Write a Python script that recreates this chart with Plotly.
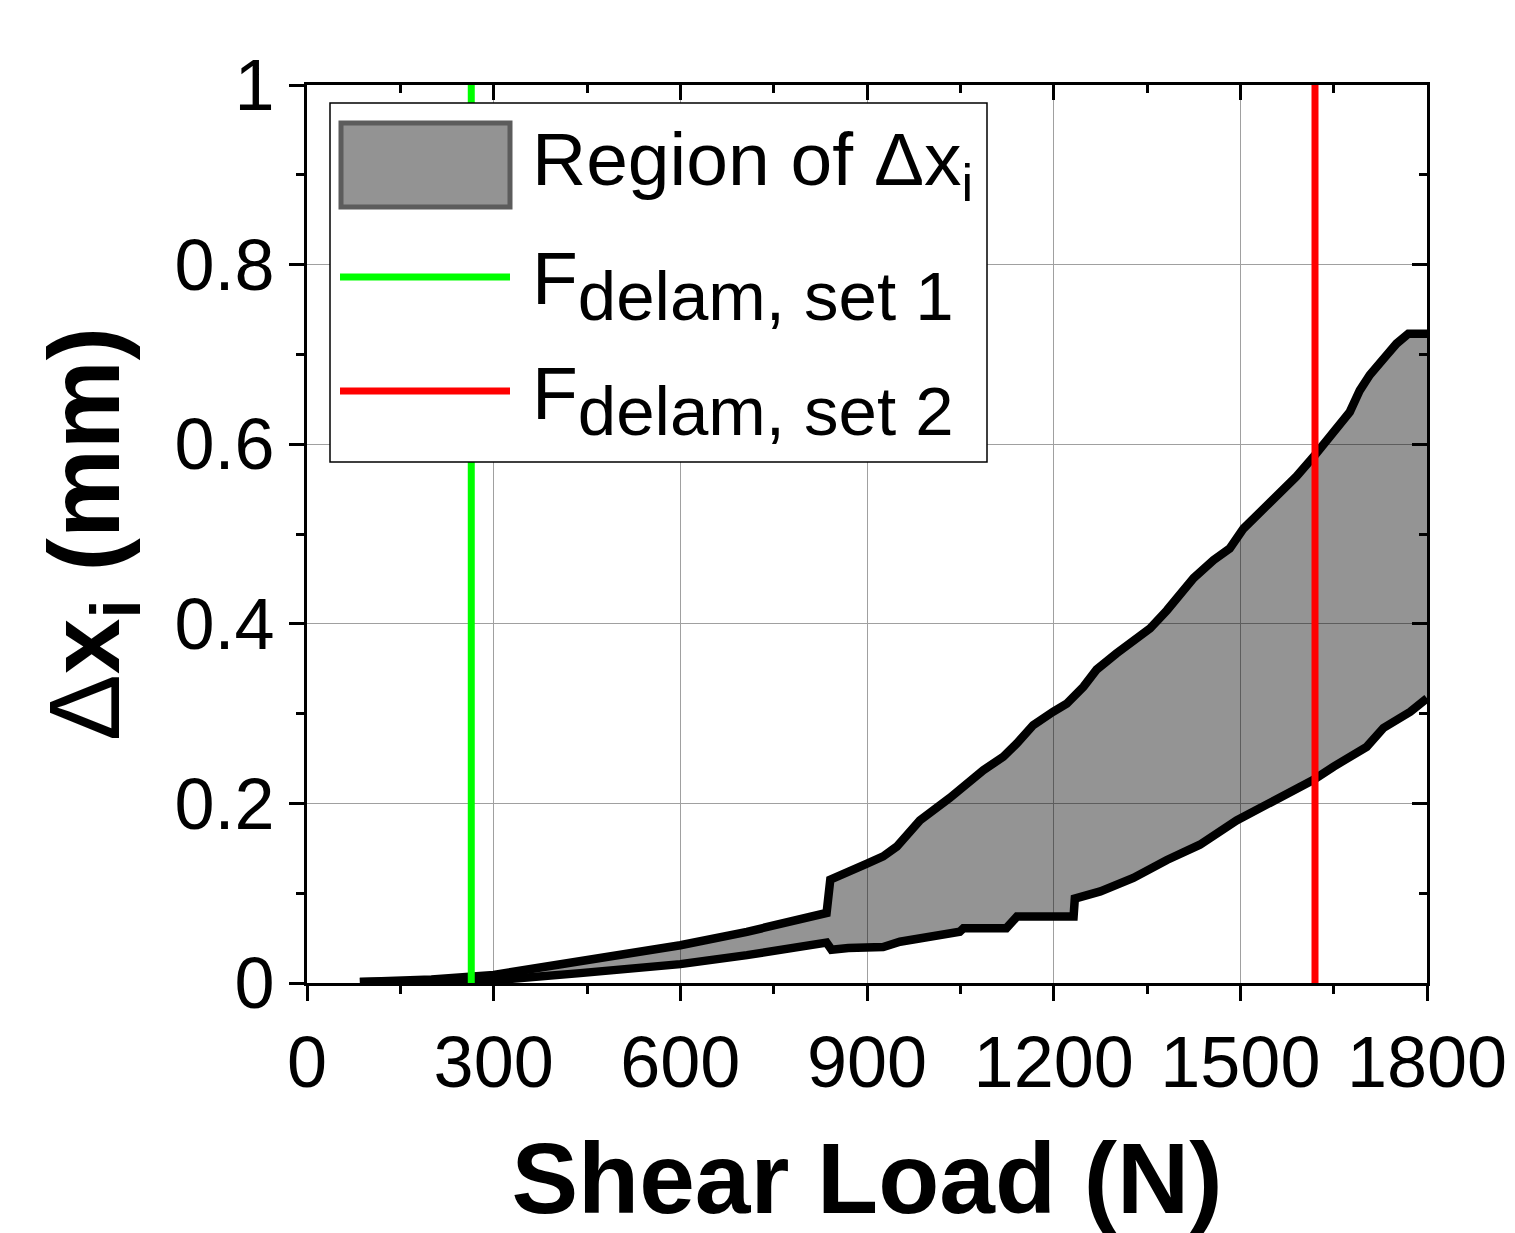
import plotly.graph_objects as go

# ---------------- data ----------------
upper_x = [85, 200, 300, 439, 600, 707, 835, 841, 873, 900, 926, 948, 985, 1017, 1033,
           1087, 1119, 1141, 1167, 1199, 1221, 1248, 1269, 1301, 1355, 1382, 1425, 1457,
           1483, 1505, 1558, 1590, 1620, 1644, 1676, 1692, 1708, 1735, 1751, 1770, 1800]
upper_y = [0.001, 0.004, 0.009, 0.024, 0.042, 0.057, 0.078, 0.115, 0.126, 0.133, 0.141,
           0.152, 0.181, 0.196, 0.206, 0.237, 0.252, 0.267, 0.287, 0.302, 0.311, 0.330,
           0.349, 0.367, 0.395, 0.415, 0.451, 0.471, 0.484, 0.506, 0.542, 0.564, 0.588,
           0.610, 0.636, 0.660, 0.677, 0.699, 0.712, 0.723, 0.723]

lower_x = [85, 200, 300, 439, 600, 707, 835, 843, 870, 926, 953, 1049, 1055, 1124, 1141,
           1232, 1234, 1275, 1328, 1382, 1435, 1494, 1569, 1617, 1650, 1703, 1730, 1773, 1800]
lower_y = [0.001, 0.002, 0.003, 0.011, 0.021, 0.031, 0.045, 0.037, 0.039, 0.040, 0.046,
           0.057, 0.061, 0.061, 0.074, 0.074, 0.094, 0.102, 0.117, 0.137, 0.154, 0.181,
           0.207, 0.226, 0.241, 0.263, 0.284, 0.302, 0.317]

f_delam_set1 = 264
f_delam_set2 = 1620

x_ticks = [0, 300, 600, 900, 1200, 1500, 1800]
y_ticks = [0, 0.2, 0.4, 0.6, 0.8, 1]
y_tick_text = ["0", "0.2", "0.4", "0.6", "0.8", "1"]

legend_labels = ["Region of Δx<sub>i</sub>",
                 "F<sub><span style='font-size:69px'>delam, set 1</span></sub>",
                 "F<sub><span style='font-size:69px'>delam, set 2</span></sub>"]

# ---------------- layout helpers ----------------
# the page body has an 8px margin, so the figure sits at (8, 8) in the window
OFF = 8
W, H = 1515, 1233
L, R, T, B = 307 - OFF, 88 + OFF, 85 - OFF, 250 + OFF
PW, PH = W - L - R, H - T - B


def px(x):
    """window pixel x -> paper coordinate"""
    return (x - OFF - L) / PW


def py(y):
    """window pixel y -> paper coordinate"""
    return (H - B - (y - OFF)) / PH


FONT = "Liberation Sans, Arial, sans-serif"

fig = go.Figure()

# filled region
fig.add_trace(go.Scatter(
    x=upper_x + lower_x[::-1], y=upper_y + lower_y[::-1],
    fill="toself", fillcolor="rgba(0,0,0,0.42)", mode="lines",
    line=dict(width=0), showlegend=False, hoverinfo="skip"))
# boundary curves
fig.add_trace(go.Scatter(x=upper_x, y=upper_y, mode="lines",
                         line=dict(color="black", width=8.5), showlegend=False))
fig.add_trace(go.Scatter(x=lower_x, y=lower_y, mode="lines",
                         line=dict(color="black", width=8.5), showlegend=False))
# delamination loads
fig.add_trace(go.Scatter(x=[f_delam_set1, f_delam_set1], y=[0, 1], mode="lines",
                         line=dict(color="#00ff00", width=7), showlegend=False))
fig.add_trace(go.Scatter(x=[f_delam_set2, f_delam_set2], y=[0, 1], mode="lines",
                         line=dict(color="#ff0000", width=7), showlegend=False))
# dummy traces for mirrored axes
fig.add_trace(go.Scatter(x=[None], y=[None], xaxis="x2", yaxis="y", showlegend=False))
fig.add_trace(go.Scatter(x=[None], y=[None], xaxis="x", yaxis="y2", showlegend=False))

axis_common = dict(showline=True, linecolor="black", linewidth=3,
                   tickcolor="black", tickwidth=3, zeroline=False)

fig.update_layout(
    width=W, height=H,
    margin=dict(l=L, r=R, t=T, b=B, autoexpand=False),
    paper_bgcolor="white", plot_bgcolor="white",
    font=dict(family=FONT, color="black", size=72),
    showlegend=False,
    xaxis=dict(range=[0, 1800], tickvals=x_ticks, ticktext=[str(v) for v in x_ticks],
               ticks="outside", ticklen=15,
               minor=dict(ticks="outside", ticklen=8, tickvals=list(range(150, 1800, 300)),
                          tickcolor="black", tickwidth=3, showgrid=False),
               showgrid=True, gridcolor="#a0a0a0", gridwidth=1,
               tickfont=dict(size=72, family=FONT),
               title=dict(text="<b>Shear Load (N)</b>", font=dict(size=100, family=FONT),
                          standoff=42),
               **axis_common),
    yaxis=dict(range=[0, 1], tickvals=y_ticks, ticktext=y_tick_text,
               ticks="outside", ticklen=15,
               minor=dict(ticks="outside", ticklen=8, tickvals=[0.1, 0.3, 0.5, 0.7, 0.9],
                          tickcolor="black", tickwidth=3, showgrid=False),
               showgrid=True, gridcolor="#a0a0a0", gridwidth=1,
               tickfont=dict(size=72, family=FONT),
               title=dict(text="Δ<b>x<sub>i</sub> (mm)</b>", font=dict(size=100, family=FONT),
                          standoff=22),
               **axis_common),
    xaxis2=dict(overlaying="x", side="top", anchor="y", range=[0, 1800], matches="x",
                tickvals=x_ticks, ticks="inside", ticklen=15, showticklabels=False,
                showgrid=False,
                minor=dict(ticks="inside", ticklen=8, tickvals=list(range(150, 1800, 300)),
                           tickcolor="black", tickwidth=3, showgrid=False),
                **axis_common),
    yaxis2=dict(overlaying="y", side="right", anchor="x", range=[0, 1],
                tickvals=y_ticks, ticks="inside", ticklen=15, showticklabels=False,
                showgrid=False,
                minor=dict(ticks="inside", ticklen=8, tickvals=[0.1, 0.3, 0.5, 0.7, 0.9],
                           tickcolor="black", tickwidth=3, showgrid=False),
                **axis_common),
)

# ---------------- manual legend ----------------
shapes = [
    dict(type="rect", xref="paper", yref="paper", x0=px(330), x1=px(987), y0=py(462), y1=py(103),
         line=dict(color="black", width=1.5), fillcolor="white", layer="above"),
    dict(type="rect", xref="paper", yref="paper", x0=px(341), x1=px(510), y0=py(207), y1=py(123),
         line=dict(color="#5c5c5c", width=5), fillcolor="#939393", layer="above"),
    dict(type="line", xref="paper", yref="paper", x0=px(340), x1=px(510), y0=py(277), y1=py(277),
         line=dict(color="#00ff00", width=7), layer="above"),
    dict(type="line", xref="paper", yref="paper", x0=px(340), x1=px(510), y0=py(391), y1=py(391),
         line=dict(color="#ff0000", width=7), layer="above"),
]
fig.update_layout(shapes=shapes)

row_y = [165, 285, 400]
for lbl, yy in zip(legend_labels, row_y):
    fig.add_annotation(xref="paper", yref="paper", x=px(530), y=py(yy), text=lbl,
                       showarrow=False, xanchor="left", yanchor="middle",
                       font=dict(size=75, family=FONT, color="black"))

fig.write_html("out.html")
